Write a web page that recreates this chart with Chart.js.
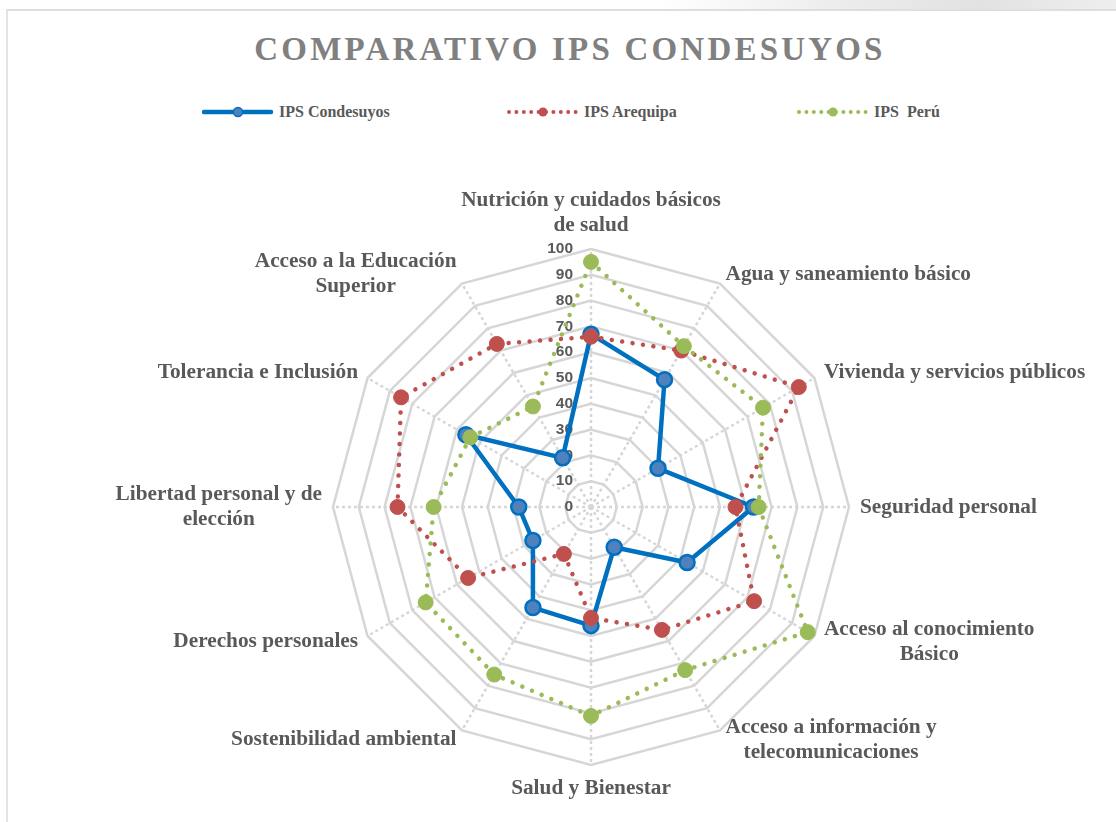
<!DOCTYPE html>
<html lang="es">
<head>
<meta charset="utf-8">
<title>Comparativo IPS Condesuyos</title>
<script src="https://cdn.jsdelivr.net/npm/chart.js@4.4.1/dist/chart.umd.min.js"></script>
<style>
  body { margin: 0; background: #fff; }
  #wrap { position: relative; width: 1116px; height: 822px; overflow: hidden; }
  .frame { position: absolute; left: 6px; top: 9px; right: -10px; bottom: -10px;
           border-top: 2px solid #dedede; border-left: 2px solid #e4e4e4; }
  .glow { position: absolute; left: 660px; top: 0; width: 456px; height: 9px;
          background: linear-gradient(to right, #fff, #ececec 40%, #e2e2e2 70%, #eee); }
  #title { position: absolute; left: 0; width: 1140px; top: 33px; text-align: center;
           font: bold 33px "Liberation Serif", "Times New Roman", serif; letter-spacing: 3.2px;
           color: #808080; line-height: 33px; }
  .leg { position: absolute; top: 102px; height: 20px; display: flex; align-items: center;
         font: bold 16px "Liberation Serif", "Times New Roman", serif; color: #595959; white-space: pre; }
  .leg svg { margin-right: 5px; }
  canvas { position: absolute; left: 0; top: 0; }
</style>
</head>
<body>
<div id="wrap">
  <div class="glow"></div>
  <div class="frame"></div>
  <div id="title">COMPARATIVO IPS CONDESUYOS</div>
  <div id="legend"></div>
  <canvas id="radar" width="1116" height="822"></canvas>
</div>
<script>
const categorias = [
  ['Nutrición y cuidados básicos', 'de salud'],
  ['Agua y saneamiento básico'],
  ['Vivienda y servicios públicos'],
  ['Seguridad personal'],
  ['Acceso al conocimiento', 'Básico'],
  ['Acceso a información y', 'telecomunicaciones'],
  ['Salud y Bienestar'],
  ['Sostenibilidad ambiental'],
  ['Derechos personales'],
  ['Libertad personal y de', 'elección'],
  ['Tolerancia e Inclusión'],
  ['Acceso a la Educación', 'Superior']
];
const ipsCondesuyos = [67, 57, 30, 63, 43, 18, 46, 45, 26, 28, 56, 22];
const ipsArequipa   = [66, 70, 93, 56, 73, 55, 43, 21, 55, 75, 85, 73];
const ipsPeru       = [95, 72, 77, 65, 97, 73, 81, 75, 74, 61, 54, 45];
const ticksEscala   = [0, 10, 20, 30, 40, 50, 60, 70, 80, 90, 100];

const nombres = ['IPS Condesuyos', 'IPS Arequipa', 'IPS  Perú'];
const colores = ['#0070C0', '#C0504D', '#9BBB59'];

/** Leyenda en HTML */
function buildLegend() {
  const lefts = [202, 507, 797];
  const cont = document.getElementById('legend');
  cont.innerHTML = nombres.map((n, i) => {
    const line = i === 0
      ? `<line x1="2" y1="10" x2="69" y2="10" stroke="${colores[0]}" stroke-width="4.5" stroke-linecap="round"/>
         <circle cx="36" cy="10" r="4.5" fill="#4F81BD" stroke="${colores[0]}" stroke-width="1.5"/>`
      : `<line x1="2" y1="10" x2="70" y2="10" stroke="${colores[i]}" stroke-width="4" stroke-dasharray="0 7.4" stroke-linecap="round"/>
         <circle cx="36" cy="10" r="4.5" fill="${colores[i]}"/>`;
    return `<div class="leg" style="left:${lefts[i]}px"><svg width="72" height="20">${line}</svg>${n}</div>`;
  }).join('');
}

/** Etiquetas de la escala y de las categorías */
const etiquetasPlugin = {
  id: 'etiquetas',
  beforeDatasetsDraw(chart) {
    const r = chart.scales.r;
    const ctx = chart.ctx;
    ctx.save();
    ctx.font = 'bold 15.5px "Liberation Sans", Arial, sans-serif';
    ctx.fillStyle = '#595959';
    ctx.textAlign = 'right';
    ctx.textBaseline = 'middle';
    ticksEscala.forEach(v => {
      ctx.fillText(String(v), r.xCenter - 18, r.yCenter - r.getDistanceFromCenterForValue(v));
    });
    ctx.restore();
  },
  afterDraw(chart) {
    const r = chart.scales.r;
    const ctx = chart.ctx;
    const lh = 25;
    ctx.save();
    ctx.font = 'bold 21.3px "Liberation Serif", "Times New Roman", serif';
    ctx.fillStyle = '#595959';
    ctx.textBaseline = 'middle';
    ctx.textAlign = 'center';
    categorias.forEach((lines, i) => {
      const p = r.getPointPosition(i, r.drawingArea + 11);
      const deg = i * 360 / categorias.length;
      const w = Math.max(...lines.map(l => ctx.measureText(l).width));
      const h = lines.length * lh;
      let left, top;
      if (deg === 0 || deg === 180) left = p.x - w / 2;
      else if (deg < 180) left = p.x;
      else left = p.x - w;
      if (deg === 0) top = p.y - h;
      else if (deg === 180) top = p.y;
      else top = p.y - h / 2;
      lines.forEach((l, k) => ctx.fillText(l, left + w / 2, top + lh / 2 + k * lh));
    });
    ctx.restore();
  }
};

function initChart() {
  buildLegend();
  const dotted = { borderWidth: 4.5, borderDash: [0.01, 10.5], borderCapStyle: 'round' };
  new Chart(document.getElementById('radar'), {
    type: 'radar',
    data: {
      labels: categorias,
      datasets: [
        {
          label: nombres[0], data: ipsCondesuyos, order: 3,
          borderColor: colores[0], borderWidth: 4.5, borderJoinStyle: 'round',
          pointRadius: 7.5, pointBackgroundColor: '#4F81BD', pointBorderColor: colores[0], pointBorderWidth: 2.5,
          fill: false, clip: false
        },
        Object.assign({
          label: nombres[1], data: ipsArequipa, order: 2,
          borderColor: colores[1],
          pointRadius: 7.5, pointBackgroundColor: colores[1], pointBorderColor: colores[1], pointBorderWidth: 1,
          fill: false, clip: false
        }, dotted),
        Object.assign({
          label: nombres[2], data: ipsPeru, order: 1,
          borderColor: colores[2],
          pointRadius: 7.5, pointBackgroundColor: colores[2], pointBorderColor: colores[2], pointBorderWidth: 1,
          fill: false, clip: false
        }, dotted)
      ]
    },
    options: {
      responsive: false,
      animation: false,
      layout: { padding: { left: 333, right: 267, top: 249, bottom: 57 } },
      plugins: { legend: { display: false }, title: { display: false }, tooltip: { enabled: false } },
      elements: { line: { tension: 0 } },
      scales: {
        r: {
          min: 0, max: 100,
          ticks: { stepSize: 10, display: false },
          pointLabels: { display: false },
          grid: { circular: false, color: '#d6d6d6', lineWidth: 2.5 },
          angleLines: { color: '#d6d6d6', lineWidth: 2.5, borderDash: [3, 3] }
        }
      }
    },
    plugins: [etiquetasPlugin]
  });
}

initChart();
</script>
</body>
</html>
